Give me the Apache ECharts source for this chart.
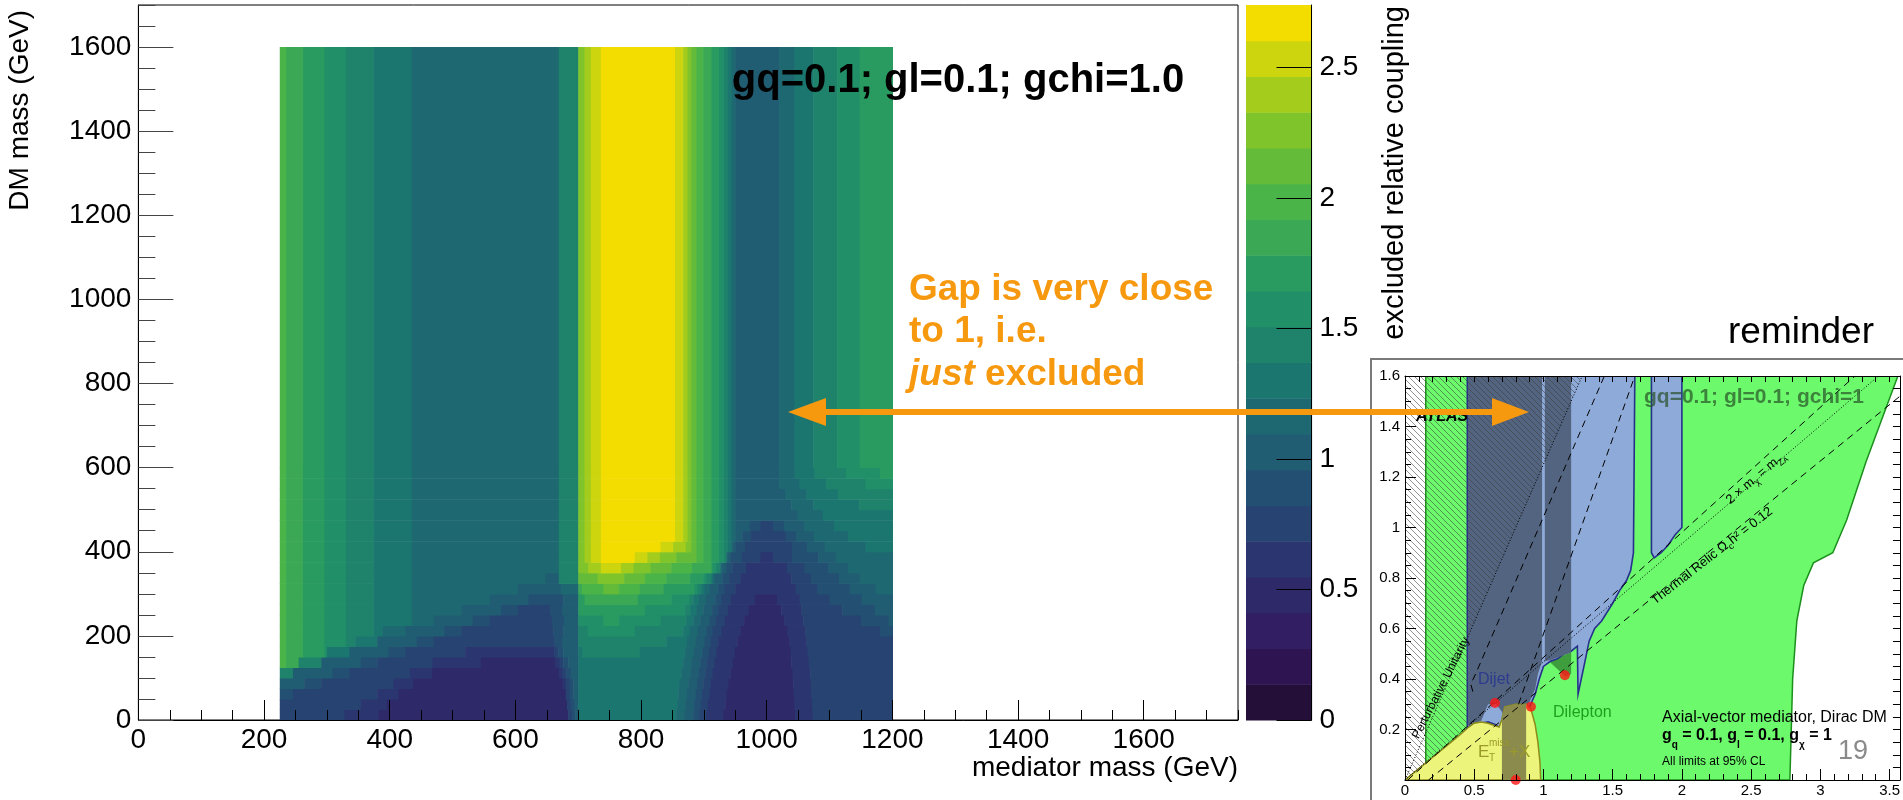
<!DOCTYPE html>
<html>
<head>
<meta charset="utf-8">
<title>excluded relative coupling</title>
<script src="https://cdn.jsdelivr.net/npm/echarts@6.0.0/dist/echarts.min.js"></script>
<style>
html,body{margin:0;padding:0;background:#fff;overflow:hidden;}
#chart{width:1903px;height:800px;}
</style>
</head>
<body>
<div id="chart"></div>
<script>
// ===================== DATA =====================
// colour-scale contour levels (20 bands) of "excluded relative coupling"
const contourLevels = [0,0.137,0.274,0.411,0.548,0.685,0.822,0.959,1.096,1.233,1.37,1.507,1.644,1.781,1.918,2.055,2.192,2.329,2.466,2.603,2.74];
const xTickValues = [0,200,400,600,800,1000,1200,1400,1600];
const yTickValues = [0,200,400,600,800,1000,1200,1400,1600];
const zTickValues = [0,0.5,1,1.5,2,2.5];

// DM-mass row edges (GeV); each row lists [mediator-mass start, contour band] runs
const rowEdgesY = [0,25,50,75,100,125,150,175,200,225,250,275,300,325,350,375,400,425,450,475,500,525,550,575,600,1600];
const xEnd = 1200;
const aCols = [225,14,235,13,262,12,296,11,330,10,375,9,435,8,669,10];
const bCols = [700,16,710,17,720,18,736,19,854,18,867,17,874,16,880,15,888,14,899,13,912,12,924,11,932,10,938,9,944,8];
const cCols = [950,7,1020,8,1044,9,1074,10,1112,11,1148,12];
const rowRuns = [
  [225,5,328,4,382,3,684,5,690,6,695,7,700,9,856,8,869,7,883,6,893,5,904,4,931,3,1045,4,1073,5],
  [225,5,354,4,395,3,682,5,688,6,694,7,700,9,858,8,871,7,885,6,895,5,906,4,934,3,1044,4,1072,5],
  [225,6,246,5,380,4,414,3,680,5,686,6,692,7,700,9,859,8,873,7,887,6,897,5,909,4,936,3,1043,4,1071,5],
  [225,7,264,6,291,5,406,4,437,3,675,4,680,5,686,6,692,7,700,9,861,8,875,7,889,6,899,5,911,4,939,3,1042,4,1070,5],
  [225,10,246,7,309,6,336,5,432,4,467,3,669,4,675,5,681,6,688,7,700,9,864,8,878,7,892,6,902,5,914,4,942,3,1041,4,1069,5],
  [225,14,235,13,255,10,291,7,354,6,380,5,468,4,545,3,663,4,670,5,676,6,684,7,700,9,867,8,880,7,894,6,905,5,917,4,946,3,1039,4,1067,5],
  [225,14,235,13,262,12,296,11,300,9,336,7,398,6,425,5,520,4,662,5,668,6,676,7,700,9,706,10,798,9,870,8,884,7,898,6,908,5,920,4,949,3,1038,4,1065,5],
  [225,14,235,13,262,12,296,11,330,10,345,9,380,7,443,6,470,5,662,6,674,7,700,10,840,9,873,8,887,7,901,6,911,5,923,4,953,3,1036,4,1063,5],
  [225,14,235,13,262,12,296,11,330,10,375,9,389,8,425,7,487,6,514,5,660,6,676,7,700,10,715,11,790,10,867,9,877,8,890,7,904,6,914,5,928,4,958,3,1033,4,1061,5,1180,6],
  [225,14,235,13,262,12,296,11,330,10,375,9,435,8,470,7,532,6,559,5,658,6,677,7,700,11,740,12,765,11,831,10,872,9,883,8,894,7,909,6,919,5,933,4,964,3,1028,4,1058,5,1150,6,1194,7],
  [225,14,235,13,262,12,296,11,330,10,375,9,435,8,514,7,577,6,604,5,655,6,674,7,700,12,806,11,870,10,878,9,888,8,899,7,913,6,923,5,938,4,971,3,1023,4,1055,5,1120,6,1172,7],
  [225,14,235,13,262,12,296,11,330,10,375,9,435,8,559,7,621,6,676,7,700,12,710,13,795,12,848,11,877,10,883,9,892,8,903,7,918,6,928,5,943,4,981,3,1016,4,1052,5,1100,6,1151,7],
  [225,14,235,13,262,12,296,11,330,10,375,9,435,8,604,7,672,8,700,13,706,14,740,15,765,14,798,13,836,12,885,11,890,10,896,9,901,8,909,7,923,6,933,5,950,4,1046,5,1080,6,1132,7,1173,8],
  [225,14,235,13,262,12,296,11,330,10,375,9,435,8,648,7,669,10,700,15,731,16,773,15,806,14,840,13,878,12,899,11,904,10,912,9,914,8,917,7,929,6,940,5,958,4,1039,5,1070,6,1115,7,1148,8],
  aCols.concat([700,16,716,17,736,18,768,17,788,16,815,15,848,14,881,13,912,12,914,11,920,10,926,8,929,7,936,6,945,5,967,4,1032,5,1060,6,1098,7,1129,8]),
  aCols.concat([700,16,710,17,720,18,736,19,790,18,810,17,830,16,856,15,888,14,899,13,912,12,924,11,932,10,936,8,937,7,942,6,960,5,990,4,1010,5,1040,6,1082,7,1110,8]),
  aCols.concat([700,16,710,17,720,18,736,19,831,18,851,17,871,16,880,15,888,14,899,13,912,12,924,11,932,10,938,9,944,8,945,7,950,6,965,5,1040,6,1064,7,1092,8,1157,9]),
  aCols.concat(bCols,[950,7,961,6,975,5,1030,6,1046,7,1075,8,1129,9]),
  aCols.concat(bCols,[950,7,973,6,990,5,1010,6,1027,7,1059,8,1107,9]),
  aCols.concat(bCols,[950,7,1049,8,1089,9]),
  aCols.concat(bCols,[950,7,1039,8,1074,9,1147,10]),
  aCols.concat(bCols,[950,7,1029,8,1063,9,1113,10]),
  aCols.concat(bCols,[950,7,1020,8,1052,9,1094,10,1157,11]),
  aCols.concat(bCols,[950,7,1020,8,1044,9,1076,10,1126,11,1180,12]),
  aCols.concat(bCols,cCols)
];

// ---- inset "reminder" (ATLAS summary, TeV units) ----
const insetXTicks = [0,0.5,1,1.5,2,2.5,3,3.5];
const insetYTicks = [0.2,0.4,0.6,0.8,1,1.2,1.4,1.6];
const dileptonRegion = [[0.15,0],[0.15,1.6],[3.56,1.6],[3.33,1.26],[3.19,1.03],[3.09,0.9],[2.95,0.86],[2.88,0.77],[2.83,0.63],[2.8,0.4],[2.78,0]];
const dileptonPatch = [[1.04,0.47],[1.2,0.505],[1.2,0.42],[1.16,0.41],[1.1,0.44]];
const dijetRegion = [[0.45,1.6],[0.45,0.205],[0.5,0.22],[0.55,0.225],[0.6,0.23],[0.65,0.22],[0.7,0.2],[0.74,0.19],[0.8,0.22],[0.85,0.26],[0.9,0.29],[0.94,0.34],[0.97,0.4],[1.0,0.45],[1.05,0.47],[1.1,0.48],[1.15,0.5],[1.2,0.51],[1.245,0.53],[1.25,0.34],[1.3,0.47],[1.33,0.55],[1.37,0.6],[1.42,0.63],[1.5,0.7],[1.55,0.75],[1.6,0.79],[1.63,0.83],[1.65,0.9],[1.66,1.6]];
const tlaRegionLeft = [[0.455,1.6],[0.455,0.215],[0.55,0.235],[0.6,0.3],[0.66,0.3],[0.7,0.27],[0.75,0.205],[0.8,0.23],[0.9,0.31],[0.94,0.36],[0.96,0.42],[0.99,0.47],[0.99,1.6]];
const tlaRegionRight = [[1.01,1.6],[1.01,0.47],[1.05,0.475],[1.1,0.485],[1.2,0.505],[1.2,1.6]];
const dijetStrip = [[1.78,1.6],[1.78,0.9],[1.8,0.88],[1.85,0.9],[1.9,0.93],[1.95,0.97],[2.0,1.0],[2.0,1.6]];
const etmissRegion = [[0,0],[0.1,0.045],[0.2,0.09],[0.3,0.135],[0.4,0.18],[0.45,0.205],[0.5,0.225],[0.55,0.23],[0.6,0.225],[0.65,0.215],[0.68,0.21],[0.7,0.24],[0.72,0.29],[0.8,0.3],[0.88,0.3],[0.91,0.28],[0.94,0.22],[0.96,0.15],[0.975,0.07],[0.98,0]];
const overlapRegion = [[0.7,0],[0.7,0.25],[0.72,0.29],[0.8,0.3],[0.875,0.3],[0.875,0]];
const unitarityHatchA = [[0,0],[0.45,0.205],[0.45,1.6],[0,1.6]];
const unitarityHatchB = [[0.45,0.5625],[1.28,1.6],[0.45,1.6]];
const unitarityLine = [[0,0],[1.28,1.6]];
const twoMassLine = [[0,0],[3.42,1.6]];
const relicLineA = [[0.02,0],[3.25,1.6]];
const relicLineB = [[0.17,0],[3.575,1.52]];
const relicLineC = [[0.49,0.35],[0.475,0.38],[0.51,0.42],[1.44,1.6]];
const relicLineD = [[0.82,0.3],[1.66,1.6]];
const benchmarkPoints = [[0.65,0.305],[0.91,0.29],[1.155,0.415],[0.8,0.0]];

// ===================== STYLE / BUILD =====================
const FONT = 'Liberation Sans';
const vR=[26,51,43,33,28,35,74,144,246], vG=[9,24,55,87,118,150,180,200,222], vB=[30,96,112,114,112,101,72,35,0];
function viridisAt(t){
  const st=[0,.125,.25,.375,.5,.625,.75,.875,1];
  let i=0; while(i<7 && t>st[i+1]) i++;
  const f=(t-st[i])/(st[i+1]-st[i]);
  const c=a=>Math.round(a[i]+(a[i+1]-a[i])*f);
  return 'rgb('+c(vR)+','+c(vG)+','+c(vB)+')';
}
const nBands = contourLevels.length-1;
const bandColors = [];
for(let i=0;i<nBands;i++){ bandColors.push(viridisAt(Math.min(1, Math.floor((i+0.99)*255/nBands)/255))); }
const pieces = [];
for(let i=0;i<nBands;i++){
  const p={gte:contourLevels[i], color:bandColors[i]};
  if(i<nBands-1) p.lt=contourLevels[i+1]; else p.lte=contourLevels[i+1];
  pieces.push(p);
}
function bandValue(b){ return (contourLevels[b]+contourLevels[b+1])/2; }

const cells = [];
rowRuns.forEach((runs,r)=>{
  for(let k=0;k<runs.length;k+=2){
    const x0=runs[k], x1=(k+2<runs.length)?runs[k+2]:xEnd;
    cells.push([x0,x1,rowEdgesY[r],rowEdgesY[r+1],bandValue(runs[k+1])]);
  }
});
const colorbarCells = [];
for(let i=0;i<nBands;i++) colorbarCells.push([0,1,contourLevels[i],contourLevels[i+1],bandValue(i)]);

function rectItem(params, api){
  const p0 = api.coord([api.value(0), api.value(3)]);
  const p1 = api.coord([api.value(1), api.value(2)]);
  return {type:'rect', shape:{x:p0[0], y:p0[1], width:p1[0]-p0[0]+0.6, height:p1[1]-p0[1]+0.6}, style:{fill:api.visual('color')}};
}

// hatch pattern
const hc = document.createElement('canvas'); hc.width=6; hc.height=6;
const hctx = hc.getContext('2d');
hctx.strokeStyle='rgba(60,60,60,0.55)'; hctx.lineWidth=1;
hctx.beginPath(); hctx.moveTo(-1,-1); hctx.lineTo(7,7); hctx.moveTo(5,-1); hctx.lineTo(7,1); hctx.moveTo(-1,5); hctx.lineTo(1,7); hctx.stroke();
const hatchFill = {image: hc, repeat:'repeat'};

function polySeries(points, style){
  return {type:'custom', xAxisIndex:3, yAxisIndex:3, silent:true, clip:true, data:[points[0]],
    renderItem:(params, api)=>({type:'polygon', shape:{points:points.map(p=>api.coord(p))}, style:style})};
}
function lineSeries(points, dash, width){
  return {type:'line', xAxisIndex:3, yAxisIndex:3, data:points, showSymbol:false, silent:true, z:4,
    lineStyle:{color:'#000', width:width||1, type:dash}};
}
const plain = v => String(v);

const ORANGE = '#f7990f';
const option = {
  animation:false,
  textStyle:{fontFamily:FONT},
  grid:[
    {left:138.4, top:5, width:1099.6, height:715, show:true, borderColor:'#000', borderWidth:1, backgroundColor:'transparent'},
    {left:1246, top:5, width:65.5, height:715, show:false},
    {left:1405, top:376, width:495, height:404, show:false}
  ],
  xAxis:[
    {gridIndex:0, type:'value', min:0, max:1750, interval:200, position:'bottom', z:10,
      axisLine:{onZero:false, lineStyle:{color:'#000', width:1}},
      axisTick:{inside:true, length:20, lineStyle:{color:'#000'}, customValues:xTickValues},
      axisLabel:{fontSize:28, color:'#000', margin:6, fontFamily:FONT, customValues:xTickValues, formatter:plain},
      splitLine:{show:false}},
    {gridIndex:0, type:'value', min:0, max:1750, interval:50, position:'bottom', z:10,
      axisLine:{show:false, onZero:false}, axisLabel:{show:false},
      axisTick:{inside:true, length:10, lineStyle:{color:'#000'}}, splitLine:{show:false}},
    {gridIndex:1, type:'value', min:0, max:1, show:false},
    {gridIndex:2, type:'value', min:0, max:3.575, interval:0.5, position:'bottom', z:10,
      axisLine:{onZero:false, lineStyle:{color:'#000'}},
      axisTick:{inside:true, length:11, lineStyle:{color:'#000'}, customValues:insetXTicks},
      axisLabel:{fontSize:15, color:'#000', margin:3, fontFamily:FONT, customValues:insetXTicks, formatter:plain},
      splitLine:{show:false}},
    {gridIndex:2, type:'value', min:0, max:3.575, interval:0.1, position:'bottom', z:10,
      axisLine:{show:false, onZero:false}, axisLabel:{show:false},
      axisTick:{inside:true, length:6, lineStyle:{color:'#000'}}, splitLine:{show:false}},
    {gridIndex:2, type:'value', min:0, max:3.575, interval:0.1, position:'top', z:10,
      axisLine:{onZero:false, lineStyle:{color:'#000'}}, axisLabel:{show:false},
      axisTick:{inside:true, length:6, lineStyle:{color:'#000'}}, splitLine:{show:false}}
  ],
  yAxis:[
    {gridIndex:0, type:'value', min:0, max:1700, interval:200, position:'left', z:10,
      axisLine:{onZero:false, lineStyle:{color:'#000'}},
      axisTick:{inside:true, length:35, lineStyle:{color:'#444'}, customValues:yTickValues},
      axisLabel:{fontSize:28, color:'#000', margin:7, fontFamily:FONT, customValues:yTickValues, formatter:plain},
      splitLine:{show:false}},
    {gridIndex:0, type:'value', min:0, max:1700, interval:50, position:'left', z:10,
      axisLine:{show:false, onZero:false}, axisLabel:{show:false},
      axisTick:{inside:true, length:17, lineStyle:{color:'#444'}}, splitLine:{show:false}},
    {gridIndex:1, type:'value', min:0, max:2.74, interval:0.5, position:'right', z:10,
      axisLine:{show:true, onZero:false, lineStyle:{color:'#000'}},
      axisTick:{show:true, inside:true, length:35, lineStyle:{color:'#000'}, customValues:zTickValues},
      axisLabel:{fontSize:28, color:'#000', margin:8, fontFamily:FONT, customValues:zTickValues, formatter:plain},
      splitLine:{show:false}},
    {gridIndex:2, type:'value', min:0, max:1.6, interval:0.2, position:'left', z:10,
      axisLine:{onZero:false, lineStyle:{color:'#000'}},
      axisTick:{inside:true, length:11, lineStyle:{color:'#000'}},
      axisLabel:{fontSize:15, color:'#000', margin:5, fontFamily:FONT, customValues:insetYTicks, formatter:plain},
      splitLine:{show:false}},
    {gridIndex:2, type:'value', min:0, max:1.6, interval:0.05, position:'left', z:10,
      axisLine:{show:false, onZero:false}, axisLabel:{show:false},
      axisTick:{inside:true, length:6, lineStyle:{color:'#000'}}, splitLine:{show:false}},
    {gridIndex:2, type:'value', min:0, max:1.6, interval:0.05, position:'right', z:10,
      axisLine:{onZero:false, lineStyle:{color:'#000'}}, axisLabel:{show:false},
      axisTick:{inside:true, length:7, lineStyle:{color:'#000'}}, splitLine:{show:false}}
  ],
  visualMap:{type:'piecewise', show:false, dimension:4, seriesIndex:[0,1], pieces:pieces},
  series:[
    {type:'custom', name:'excluded relative coupling', xAxisIndex:0, yAxisIndex:0, data:cells, silent:true,
      encode:{x:[0,1], y:[2,3]}, renderItem:rectItem, progressive:0, z:2},
    {type:'custom', name:'palette', xAxisIndex:2, yAxisIndex:2, data:colorbarCells, silent:true,
      encode:{x:[0,1], y:[2,3]}, renderItem:rectItem, progressive:0, z:2},
    polySeries(dileptonRegion, {fill:'#6cfa6c', stroke:'#1c8f1c', lineWidth:1.5}),
    polySeries(dileptonPatch, {fill:'#3e9e3e'}),
    polySeries(dijetRegion, {fill:'#8eaad8', stroke:'#26318c', lineWidth:1.6}),
    polySeries(tlaRegionLeft, {fill:'#52647f'}),
    polySeries(tlaRegionRight, {fill:'#52647f'}),
    polySeries(dijetStrip, {fill:'#8eaad8', stroke:'#26318c', lineWidth:1.6}),
    polySeries(etmissRegion, {fill:'#ecf47c', stroke:'#8c8c18', lineWidth:1.5}),
    polySeries(overlapRegion, {fill:'#8a8b4c'}),
    polySeries(unitarityHatchA, {fill:hatchFill}),
    polySeries(unitarityHatchB, {fill:hatchFill}),
    lineSeries(unitarityLine, [1,2], 1),
    lineSeries(twoMassLine, [1,2], 1),
    lineSeries(relicLineA, [7,5], 1),
    lineSeries(relicLineB, [7,5], 1),
    lineSeries(relicLineC, [7,5], 1),
    lineSeries(relicLineD, [7,5], 1),
    {type:'scatter', xAxisIndex:3, yAxisIndex:3, data:benchmarkPoints, symbolSize:10, silent:true, z:6,
      itemStyle:{color:'#ff1414'}}
  ],
  graphic:{elements:[
    {type:'rect', z:-1, shape:{x:1371, y:359, width:560, height:470}, style:{fill:'#fff', stroke:'#7a7a7a', lineWidth:2}},
    // main plot texts
    {type:'text', z:100, x:958, y:81, style:{text:'gq=0.1; gl=0.1; gchi=1.0', fontSize:40, fontWeight:'bold', fontFamily:FONT, fill:'#000', align:'center', verticalAlign:'middle'}},
    {type:'text', z:100, x:1238, y:768, style:{text:'mediator mass (GeV)', fontSize:28, fontFamily:FONT, fill:'#000', align:'right', verticalAlign:'middle'}},
    {type:'text', z:100, x:20, y:10, rotation:Math.PI/2, style:{text:'DM mass (GeV)', fontSize:28, fontFamily:FONT, fill:'#000', align:'right', verticalAlign:'middle'}},
    {type:'text', z:100, x:1395, y:6, rotation:Math.PI/2, style:{text:'excluded relative coupling', fontSize:29, fontFamily:FONT, fill:'#000', align:'right', verticalAlign:'middle'}},
    // annotation
    {type:'text', z:100, x:909, y:290, style:{text:'Gap is very close', fontSize:37, fontWeight:'bold', fontFamily:FONT, fill:ORANGE, verticalAlign:'middle'}},
    {type:'text', z:100, x:909, y:332, style:{text:'to 1, i.e.', fontSize:37, fontWeight:'bold', fontFamily:FONT, fill:ORANGE, verticalAlign:'middle'}},
    {type:'text', z:100, x:909, y:375, style:{text:'{i|just} excluded', fontSize:37, fontWeight:'bold', fontFamily:FONT, fill:ORANGE, verticalAlign:'middle',
      rich:{i:{fontSize:37, fontWeight:'bold', fontStyle:'italic', fontFamily:FONT, fill:ORANGE}}}},
    {type:'line', z:100, shape:{x1:822, y1:412, x2:1496, y2:412}, style:{stroke:ORANGE, lineWidth:6}},
    {type:'polygon', z:100, shape:{points:[[788,412],[826,398],[826,426]]}, style:{fill:ORANGE}},
    {type:'polygon', z:100, shape:{points:[[1529,412],[1492,398],[1492,426]]}, style:{fill:ORANGE}},
    {type:'text', z:100, x:1728, y:333, style:{text:'reminder', fontSize:37, fontFamily:FONT, fill:'#000', verticalAlign:'middle'}},
    // inset labels
    {type:'text', z:90, x:1416, y:417, style:{text:'ATLAS', fontSize:16, fontWeight:'bold', fontStyle:'italic', fontFamily:FONT, fill:'#000', verticalAlign:'middle'}},
    {type:'text', z:90, x:1644, y:397, style:{text:'gq=0.1; gl=0.1; gchi=1', fontSize:21, fontWeight:'bold', fontFamily:FONT, fill:'rgba(40,80,40,0.7)', verticalAlign:'middle'}},
    {type:'text', z:90, x:1478, y:680, style:{text:'Dijet', fontSize:16, fontFamily:FONT, fill:'#2e3b90', verticalAlign:'middle'}},
    {type:'text', z:90, x:1553, y:713, style:{text:'Dilepton', fontSize:16, fontFamily:FONT, fill:'#1f9f1f', verticalAlign:'middle'}},
    {type:'text', z:90, x:1478, y:752, style:{text:'E', fontSize:17, fontFamily:FONT, fill:'#9a9a2a', verticalAlign:'middle'}},
    {type:'text', z:90, x:1489, y:743, style:{text:'miss', fontSize:10, fontFamily:FONT, fill:'#9a9a2a', verticalAlign:'middle'}},
    {type:'text', z:90, x:1489, y:758, style:{text:'T', fontSize:10, fontFamily:FONT, fill:'#9a9a2a', verticalAlign:'middle'}},
    {type:'text', z:90, x:1509, y:752, style:{text:'+X', fontSize:17, fontFamily:FONT, fill:'#9a9a2a', verticalAlign:'middle'}},
    {type:'text', z:90, x:1441, y:688, rotation:1.1, style:{text:'Perturbative Unitarity', fontSize:12, fontFamily:FONT, fill:'#000', align:'center', verticalAlign:'middle'}},
    {type:'text', z:90, x:1756, y:478, rotation:0.7, style:{text:'2 × m{s|χ} = m{s|Z}{t|A}', fontSize:13, fontFamily:FONT, fill:'#000', align:'center', verticalAlign:'middle',
      rich:{s:{fontSize:9, fontFamily:FONT, fill:'#000', verticalAlign:'bottom', lineHeight:18}, t:{fontSize:7, fontFamily:FONT, fill:'#000', verticalAlign:'bottom', lineHeight:18}}}},
    {type:'text', z:90, x:1712, y:556, rotation:0.66, style:{text:'Thermal Relic Ω{s|c}h² = 0.12', fontSize:13, fontFamily:FONT, fill:'#000', align:'center', verticalAlign:'middle',
      rich:{s:{fontSize:9, fontFamily:FONT, fill:'#000', verticalAlign:'bottom', lineHeight:18}}}},
    {type:'text', z:90, x:1662, y:718, style:{text:'Axial-vector mediator, Dirac DM', fontSize:16, fontFamily:FONT, fill:'#000', verticalAlign:'middle'}},
    {type:'text', z:90, x:1662, y:739, style:{text:'{b|g}{s|q}{b| = 0.1, g}{s|l}{b| = 0.1, g}{s|χ}{b| = 1}', fontSize:16, fontFamily:FONT, fill:'#000', verticalAlign:'middle',
      rich:{b:{fontSize:16, fontWeight:'bold', fontFamily:FONT, fill:'#000', verticalAlign:'top', lineHeight:22}, s:{fontSize:10, fontWeight:'bold', fontFamily:FONT, fill:'#000', verticalAlign:'bottom', lineHeight:22}}}},
    {type:'text', z:90, x:1662, y:762, style:{text:'All limits at 95% CL', fontSize:12, fontFamily:FONT, fill:'#000', verticalAlign:'middle'}},
    {type:'text', z:90, x:1853, y:752, style:{text:'19', fontSize:27, fontFamily:FONT, fill:'#8a8a8a', align:'center', verticalAlign:'middle'}}
  ]}
};
const chart = echarts.init(document.getElementById('chart'), null, {renderer:'canvas', width:1903, height:800});
chart.setOption(option);
</script>
</body>
</html>
